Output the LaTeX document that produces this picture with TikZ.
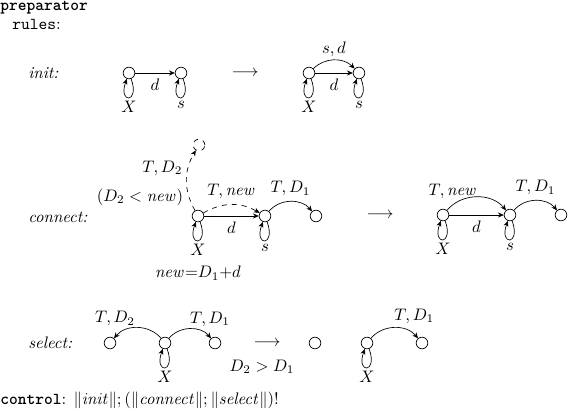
\documentclass[tikz,border=0pt]{standalone}
\usepackage{amsfonts,amssymb,amsmath}
\usetikzlibrary{arrows.meta}

\begin{document}
\begin{tikzpicture}[x=0.6pt,y=0.6pt,
  st/.style={circle,draw,minimum size=7pt,inner sep=0pt},
  lp/.style={out=-70,in=-110,distance=16pt},
  rl/.style={anchor=west,inner sep=0pt,font=\itshape},
  >={Stealth[length=3.5pt,width=3pt]}]
\useasboundingbox (0,0) rectangle (568,-412);
% headings
\node[anchor=west,inner sep=0pt,font=\ttfamily\bfseries] (title) at (0,-8) {preparator};
\node[anchor=west,inner sep=0pt] (rules) at (12,-24) {\texttt{rules}:};
\node[rl] (init) at (28,-73) {init:};
\node[rl] (conn) at (28,-217) {connect:};
\node[rl] (sel) at (28,-343) {select:};
% init
\node[st] (i1) at (129,-73) {};
\node[st] (i2) at (181,-73) {};
\draw[->] (i1) -- node[below] {$d$} (i2);
\draw[->] (i1) to[lp] node[below,inner sep=2pt] {$X$} (i1);
\draw[->] (i2) to[lp] node[below,inner sep=2pt] {$s$} (i2);
\node (ar1) at (245,-73) {$\longrightarrow$};
\node[st] (i3) at (309,-73) {};
\node[st] (i4) at (359,-73) {};
\draw[->] (i3) -- node[below] {$d$} (i4);
\draw[->] (i3) to[bend left=45] node[above,inner sep=2pt] {$s,d$} (i4);
\draw[->] (i3) to[lp] node[below,inner sep=2pt] {$X$} (i3);
\draw[->] (i4) to[lp] node[below,inner sep=2pt] {$s$} (i4);
% connect
\node[st] (c1) at (198,-216) {};
\node[st] (c2) at (265,-216) {};
\node[st] (c3) at (316,-216) {};
\node[st,dashed] (c0) at (199,-145) {};
\draw[->] (c1) -- node[below] {$d$} (c2);
\draw[->,dashed] (c1) to[bend left=30] node[above] {$T,\mathit{new}$} (c2);
\draw[->] (c2) to[bend left=50] node[above] {$T,D_1$} (c3);
\draw[->,dashed] (c1) to[bend left=30] node[left,pos=0.7] {$T,D_2$} (c0);
\draw[->] (c1) to[lp] node[below,inner sep=2pt] {$X$} (c1);
\draw[->] (c2) to[lp] node[below,inner sep=2pt] {$s$} (c2);
\node (cmp) at (140,-197) {$(D_2<\mathit{new})$};
\node (upd) at (198,-273) {$\mathit{new}{=}D_1{+}d$};
\node (ar2) at (380,-215) {$\longrightarrow$};
\node[st] (c4) at (443,-215) {};
\node[st] (c5) at (510,-215) {};
\node[st] (c6) at (561,-215) {};
\draw[->] (c4) -- node[below] {$d$} (c5);
\draw[->] (c4) to[bend left=50] node[above,pos=0.12] {$T,\mathit{new}$} (c5);
\draw[->] (c5) to[bend left=50] node[above] {$T,D_1$} (c6);
\draw[->] (c4) to[lp] node[below,inner sep=2pt] {$X$} (c4);
\draw[->] (c5) to[lp] node[below,inner sep=2pt] {$s$} (c5);
% select
\node[st] (s1) at (110,-343) {};
\node[st] (s2) at (165,-343) {};
\node[st] (s3) at (215,-343) {};
\draw[->] (s2) to[bend right=50] node[above=3pt,pos=0.97] {$T,D_2$} (s1);
\draw[->] (s2) to[bend left=50] node[above=3pt,pos=0.97] {$T,D_1$} (s3);
\draw[->] (s2) to[lp] node[below,inner sep=2pt] {$X$} (s2);
\node (ar3) at (267,-343) {$\longrightarrow$};
\node (cnd) at (262,-367) {$D_2>D_1$};
\node[st] (s4) at (315,-343) {};
\node[st] (s5) at (367,-343) {};
\node[st] (s6) at (422,-343) {};
\draw[->] (s5) to[bend left=50] node[above=3pt,pos=0.9] {$T,D_1$} (s6);
\draw[->] (s5) to[lp] node[below,inner sep=2pt] {$X$} (s5);
% control
\node[anchor=west,inner sep=0pt] (ctrl) at (0,-400) {\texttt{\bfseries control}: $\|\mathit{init}\|;(\|\mathit{connect}\|;\|\mathit{select}\|)!$};
\end{tikzpicture}
\end{document}
